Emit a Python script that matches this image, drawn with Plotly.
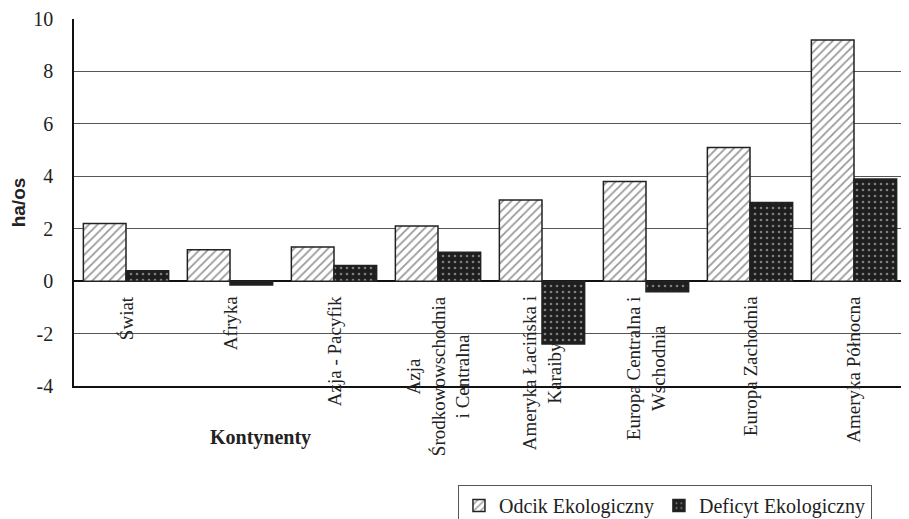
import plotly.graph_objects as go

categories = ["Świat", "Afryka", "Azja - Pacyfik", "Azja Środkowowschodnia i Centralna",
              "Ameryka Łacińska i Karaiby", "Europa Centralna i Wschodnia",
              "Europa Zachodnia", "Ameryka Północna"]
tick_labels = ["Świat", "Afryka", "Azja - Pacyfik", "Azja<br>Środkowowschodnia<br>i Centralna",
               "Ameryka Łacińska i<br>Karaiby", "Europa Centralna i<br>Wschodnia",
               "Europa Zachodnia", "Ameryka Północna"]
odcik = [2.2, 1.2, 1.3, 2.1, 3.1, 3.8, 5.1, 9.2]
deficyt = [0.4, -0.15, 0.6, 1.1, -2.4, -0.4, 3.0, 3.9]
y_tick_vals = [-4, -2, 0, 2, 4, 6, 8, 10]
y_tick_text = ["-4", "-2", "0", "2", "4", "6", "8", "10"]

SERIF = "Liberation Serif, Times New Roman, serif"

fig = go.Figure()
fig.add_trace(go.Bar(
    x=categories, y=odcik, name="Odcik Ekologiczny",
    marker=dict(color="white", line=dict(color="#222", width=1.5),
                pattern=dict(shape="/", fgcolor="#333", bgcolor="white", size=6, solidity=0.3)),
))
fig.add_trace(go.Bar(
    x=categories, y=deficyt, name="Deficyt Ekologiczny",
    marker=dict(color="#222", line=dict(color="#222", width=1.5),
                pattern=dict(shape=".", fgcolor="#e0e0e0", bgcolor="#1e1e1e", size=6, solidity=0.15)),
))

for c, t in zip(categories, tick_labels):
    fig.add_annotation(x=c, y=0, xref="x", yref="y", text=t, textangle=-90,
                       showarrow=False, yanchor="top", xanchor="center", yshift=-13,
                       align="center", font=dict(family=SERIF, size=19, color="#222"))

fig.add_annotation(x=0.224, y=-0.14, xref="paper", yref="paper", text="<b>Kontynenty</b>",
                   showarrow=False, xanchor="center", yanchor="middle",
                   font=dict(family=SERIF, size=20, color="#222"))

fig.update_layout(
    width=901, height=511,
    margin=dict(l=66, r=3, t=11, b=133, autoexpand=False),
    paper_bgcolor="white", plot_bgcolor="white",
    barmode="group", bargap=0.18, bargroupgap=0,
    showlegend=True,
    legend=dict(orientation="h", x=0.4615, y=-0.27, xanchor="left", yanchor="top",
                bordercolor="#555", borderwidth=1, bgcolor="white",
                font=dict(family=SERIF, size=20, color="#222"),
                itemwidth=30, tracegroupgap=0),
    xaxis=dict(showticklabels=False, ticks="", showgrid=False, showline=True,
               linecolor="#111", linewidth=1.5),
    yaxis=dict(range=[-4, 10], tickvals=y_tick_vals, ticktext=y_tick_text,
               showgrid=True, gridcolor="#555", gridwidth=1,
               zeroline=True, zerolinecolor="#111", zerolinewidth=1.5,
               showline=True, linecolor="#111", linewidth=1.5, ticks="",
               ticklabelstandoff=15,
               tickfont=dict(family=SERIF, size=20, color="#222"),
               title=dict(text="<b>ha/os</b>", standoff=22,
                          font=dict(family="Liberation Sans, Arial, sans-serif", size=19, color="#222"))),
)

fig.write_html("out.html")
